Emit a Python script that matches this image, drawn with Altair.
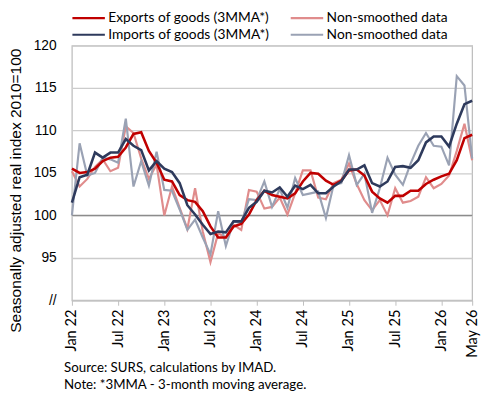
import altair as alt
import pandas as pd

# Months Jan 22 .. May 26
months = [d.strftime("%b %y") for d in pd.date_range("2022-01-01", "2026-05-01", freq="MS")]
tick_labels = ["Jan 22", "Jul 22", "Jan 23", "Jul 23", "Jan 24", "Jul 24",
               "Jan 25", "Jul 25", "Jan 26", "May 26"]
y_ticks = [90, 95, 100, 105, 110, 115, 120]

exports_3mma = [105.5, 105.0, 105.1, 105.5, 106.4, 106.8, 106.9, 108.0, 109.6, 109.8,
                107.6, 106.2, 104.2, 104.0, 102.4, 101.8, 101.6, 100.5, 98.7, 97.4,
                97.4, 98.7, 99.0, 100.1, 101.8, 102.9, 102.4, 102.2, 102.0, 102.6,
                104.0, 105.0, 104.9, 104.1, 103.6, 104.1, 105.3, 105.4, 104.7, 102.8,
                102.0, 101.5, 102.3, 102.3, 102.9, 102.9, 103.7, 104.2, 104.6, 104.9,
                106.5, 109.1, 109.5]
exports_raw = [105.2, 103.4, 104.3, 105.7, 106.6, 105.2, 105.6, 110.5, 109.7, 106.7,
               104.3, 106.0, 100.0, 103.4, 100.9, 98.4, 103.2, 98.1, 94.5, 97.9,
               97.4, 98.9, 98.3, 103.0, 102.8, 100.8, 101.0, 102.1, 100.1, 102.6,
               105.3, 105.3, 102.1, 101.9, 103.8, 104.2, 106.1, 103.7, 101.8, 100.6,
               101.8, 100.0, 103.2, 101.5, 101.7, 102.2, 104.5, 103.2, 103.7, 104.7,
               107.6, 110.8, 106.5]
imports_3mma = [101.5, 104.5, 104.8, 107.4, 106.8, 107.4, 107.4, 109.0, 108.2, 107.7,
                105.3, 106.4, 105.5, 105.1, 103.8, 101.2, 100.1, 98.9, 97.8, 98.1,
                98.0, 99.3, 99.3, 100.9, 101.6, 102.9, 102.7, 103.3, 102.2, 103.5,
                103.1, 103.6, 102.6, 102.6, 103.4, 104.0, 105.4, 105.4, 105.9, 103.8,
                103.4, 104.0, 105.7, 105.8, 105.6, 106.5, 108.6, 109.3, 109.3, 108.1,
                110.8, 113.1, 113.5]
imports_raw = [100.0, 108.5, 104.7, 105.0, 106.8, 106.6, 106.2, 111.4, 103.4, 106.4,
               103.5, 107.5, 103.0, 102.9, 100.7, 98.3, 99.5, 97.4, 95.4, 100.5,
               96.4, 99.3, 99.1, 101.9, 101.8, 104.0, 101.0, 103.1, 100.9, 104.4,
               102.4, 102.6, 102.8, 99.7, 103.6, 103.8, 107.1, 103.6, 104.9, 100.3,
               103.2, 106.8, 104.8, 103.6, 106.1, 108.2, 109.7, 108.2, 108.1, 105.9,
               116.4, 115.3, 106.7]

# legend fills column by column: col 1 = smoothed, col 2 = non-smoothed
series_keys = ["exp3", "imp3", "expr", "impr"]
series_labels = ["Exports of goods (3MMA*)", "Imports of goods (3MMA*)",
                 "Non-smoothed data", "Non-smoothed data"]
colors = ["#C00000", "#2E3A5C", "#E08C8C", "#9AA2B4"]
widths = {"exp3": 2.6, "expr": 2.2, "imp3": 2.6, "impr": 2.2}
series_values = {"exp3": exports_3mma, "expr": exports_raw,
                 "imp3": imports_3mma, "impr": imports_raw}

rows = []
for key in series_keys:
    for m, v in zip(months, series_values[key]):
        rows.append({"month": m, "series": key, "value": v})
df = pd.DataFrame(rows)

label_map = "{" + ",".join(f"'{k}':'{l}'" for k, l in zip(series_keys, series_labels)) + "}"

x_enc = alt.X("month:O", sort=months,
              scale=alt.Scale(type="point", padding=0),
              axis=alt.Axis(values=tick_labels, labelAngle=270, labelFont="Lato",
                            labelFontSize=14.8, labelColor="black", tickSize=5,
                            tickColor="#bfbfbf", domainColor="#bfbfbf", grid=False,
                            title=None, labelPadding=4))
y_enc = alt.Y("value:Q", scale=alt.Scale(domain=[90, 120], nice=False, zero=False),
              axis=alt.Axis(values=y_ticks,
                            labelExpr="datum.value == 90 ? '//' : datum.label",
                            title="Seasonally adjusted real index 2010=100",
                            titleFont="Liberation Sans", titleFontSize=15.8,
                            titleFontWeight="normal", titleColor="black",
                            titleX=-49, titleY=147,
                            labelFont="Liberation Sans", labelFontSize=14,
                            labelColor="black", labelPadding=16, ticks=False,
                            domain=False, gridColor="#cccccc", gridWidth=1.3))
color_enc = alt.Color("series:N",
                      scale=alt.Scale(domain=series_keys, range=colors),
                      legend=alt.Legend(title=None, orient="none", legendX=-1, legendY=-35,
                                        columns=2, symbolType="stroke", symbolSize=1089,
                                        symbolStrokeWidth=2.2, clipHeight=14,
                                        labelExpr=label_map + "[datum.value]",
                                        labelFont="Lato", labelFontSize=14, labelColor="black",
                                        columnPadding=20, rowPadding=3, labelOffset=2,
                                        labelLimit=300))

base = alt.Chart(df)
ref100 = alt.Chart(pd.DataFrame({"v": [100]})).mark_rule(color="#8c8c8c", strokeWidth=1.3).encode(y=alt.Y("v:Q"))

layers = [ref100]
for key in ["expr", "impr", "exp3", "imp3"]:
    layers.append(
        base.transform_filter(alt.datum.series == key)
        .mark_line(strokeWidth=widths[key])
        .encode(x=x_enc, y=y_enc, color=color_enc)
    )

chart = alt.layer(*layers).properties(
    width=407, height=259,
    padding={"left": 65, "top": 35, "right": 10, "bottom": 90},
    autosize=alt.AutoSizeParams(type="none"),
    title=alt.TitleParams(
        text=["Source: SURS, calculations by IMAD.", "Note: *3MMA - 3-month moving average."],
        orient="bottom", anchor="start", font="Lato", fontSize=13.5, fontWeight="normal",
        color="black", lineHeight=16.5, offset=4, dx=-8, frame="group"),
).configure_view(stroke="#bfbfbf", strokeWidth=1.3)

chart.save("out.html", embed_options={"renderer": "svg", "actions": False})
